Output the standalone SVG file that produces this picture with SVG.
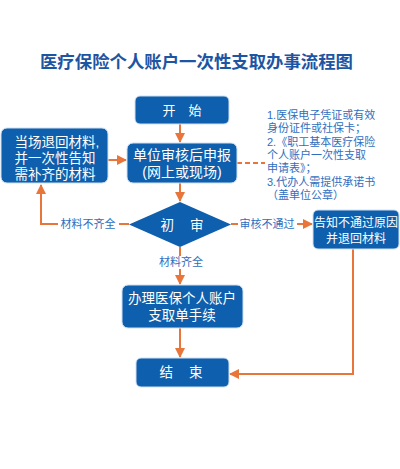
<svg xmlns="http://www.w3.org/2000/svg" width="400" height="469" viewBox="0 0 400 469">
<defs>
<marker id="ah" viewBox="0 0 10 10" refX="9" refY="5" markerWidth="5" markerHeight="5" orient="auto"><path d="M0,0 L10,5 L0,10 z" fill="#e8763a"/></marker>
<style>
.box{fill:#0e5fad;stroke:#cfe0f2;stroke-width:1}
.bt{fill:#fff;font-family:"Liberation Sans","Noto Sans CJK SC",sans-serif;text-anchor:middle}
.ln{fill:none;stroke:#e8763a;stroke-width:2}
.lb{fill:#2f6ebe;font-family:"Liberation Sans","Noto Sans CJK SC",sans-serif;font-size:11px;text-anchor:middle}
.note{fill:#2f6ebe;font-family:"Liberation Sans","Noto Sans CJK SC",sans-serif;font-size:11px}
</style>
</defs>
<rect width="400" height="469" fill="#fff"/>
<text x="196.5" y="68" text-anchor="middle" font-family="'Noto Sans CJK SC',sans-serif" font-size="17.4" font-weight="bold" fill="#1d55a3">医疗保险个人账户一次性支取办事流程图</text>
<g id="connectors">
<line class="ln" x1="180" y1="124" x2="180" y2="142" marker-end="url(#ah)"/>
<line class="ln" x1="180" y1="183" x2="180" y2="201" marker-end="url(#ah)"/>
<line class="ln" x1="108" y1="160" x2="126" y2="160" marker-end="url(#ah)"/>
<line class="ln" x1="129" y1="224" x2="119" y2="224"/>
<polyline class="ln" points="58,224 41,224 41,185" marker-end="url(#ah)"/>
<line class="ln" x1="231" y1="224" x2="238" y2="224"/>
<line class="ln" x1="297" y1="224" x2="312" y2="224" marker-end="url(#ah)"/>
<line class="ln" x1="180" y1="247" x2="180" y2="256"/>
<line class="ln" x1="180" y1="269" x2="180" y2="284" marker-end="url(#ah)"/>
<line class="ln" x1="180" y1="328" x2="180" y2="357" marker-end="url(#ah)"/>
<polyline class="ln" points="353,249 353,374 230,374" marker-end="url(#ah)"/>
<line class="ln" x1="237" y1="163" x2="265" y2="163" stroke-dasharray="5,3"/>
<text class="lb" x="88" y="228">材料不齐全</text>
<text class="lb" x="267" y="228">审核不通过</text>
<text class="lb" x="181" y="266">材料齐全</text>
</g>
<g id="start">
<rect class="box" x="135" y="96" width="94" height="28" rx="5"/>
<text class="bt" x="182" y="115" font-size="13">开　始</text>
</g>
<g id="submit">
<rect class="box" x="127" y="143" width="110" height="40" rx="6"/>
<text class="bt" x="182" y="160" font-size="14">单位审核后申报</text>
<text class="bt" x="182" y="177" font-size="14">(网上或现场)</text>
</g>
<g id="return">
<rect class="box" x="1" y="128" width="107" height="55" rx="6"/>
<text class="bt" x="57" y="147" font-size="13.5">当场退回材料,</text>
<text class="bt" x="55" y="163" font-size="13.5">并一次性告知</text>
<text class="bt" x="55" y="179" font-size="13.5">需补齐的材料</text>
</g>
<g id="review">
<polygon points="180,202 231,224.5 180,247 129,224.5" fill="#0e5fad"/>
<text class="bt" x="182" y="229.5" font-size="13.5">初<tspan dx="16">审</tspan></text>
</g>
<g id="reject">
<rect class="box" x="313" y="210" width="86" height="39" rx="5"/>
<text class="bt" x="356" y="227" font-size="12">告知不通过原因</text>
<text class="bt" x="356" y="243" font-size="12">并退回材料</text>
</g>
<g id="process">
<rect class="box" x="122" y="285" width="121" height="43" rx="6"/>
<text class="bt" x="182" y="303" font-size="13.5">办理医保个人账户</text>
<text class="bt" x="182" y="320" font-size="13.5">支取单手续</text>
</g>
<g id="end">
<rect class="box" x="136" y="358" width="93" height="29" rx="5"/>
<text class="bt" x="181" y="377" font-size="13.5">结<tspan dx="16">束</tspan></text>
</g>
<g id="note">
<text class="note" x="267" y="119">1.医保电子凭证或有效</text>
<text class="note" x="267" y="132.3">身份证件或社保卡；</text>
<text class="note" x="267" y="145.6">2.《职工基本医疗保险</text>
<text class="note" x="267" y="159">个人账户一次性支取</text>
<text class="note" x="267" y="172.3">申请表》；</text>
<text class="note" x="267" y="185.6">3.代办人需提供承诺书</text>
<text class="note" x="267" y="199">（盖单位公章）</text>
</g>
</svg>
